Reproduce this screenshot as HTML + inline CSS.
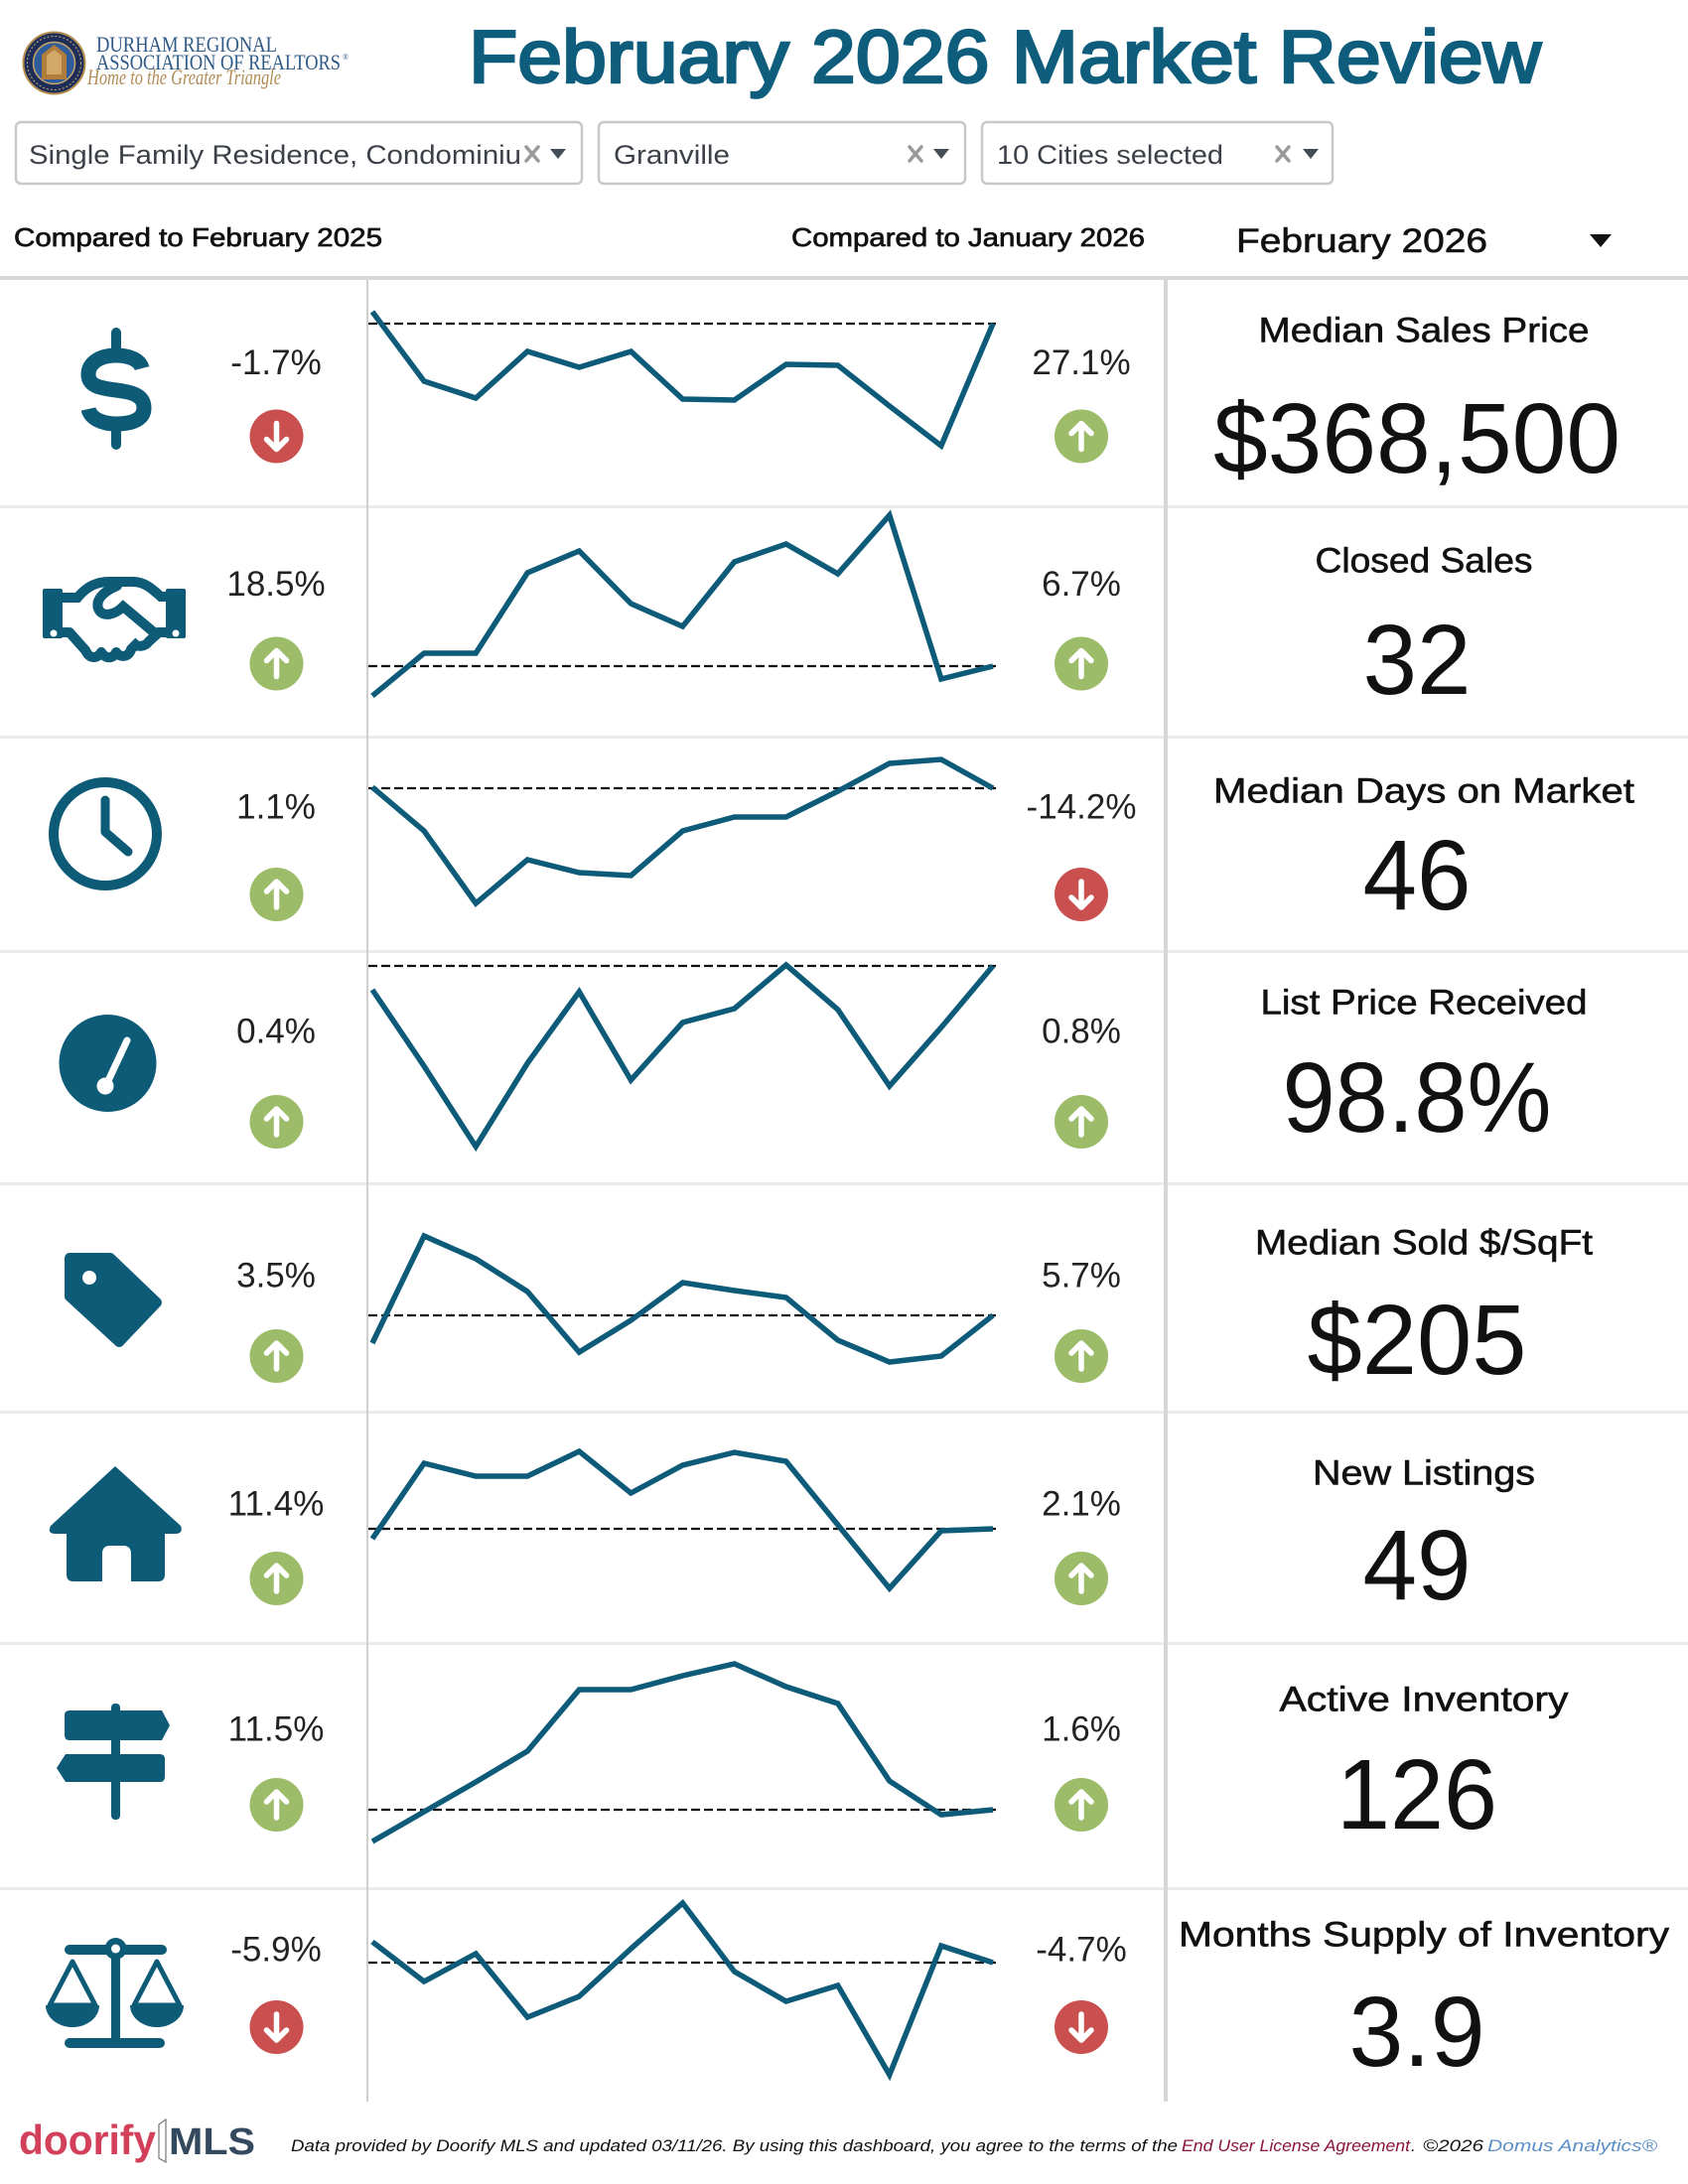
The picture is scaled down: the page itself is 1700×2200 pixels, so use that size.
<!DOCTYPE html>
<html>
<head>
<meta charset="utf-8">
<style>
html,body{margin:0;padding:0;background:#fff;}
svg{display:block;}
</style>
</head>
<body>
<svg width="1700" height="2200" viewBox="0 0 1700 2200" xmlns="http://www.w3.org/2000/svg" font-family="'Liberation Sans', sans-serif">
<rect width="1700" height="2200" fill="#fff"/>

<!-- ===== LOGO ===== -->
<g>
  <circle cx="54.5" cy="63.5" r="31" fill="#1f2e58" stroke="#b58e4c" stroke-width="2"/>
  <circle cx="54.5" cy="63.5" r="27" fill="none" stroke="#c9ab73" stroke-width="1" stroke-dasharray="2 2"/>
  <circle cx="54.5" cy="63.5" r="21" fill="#2f5d9c" stroke="#c9a66a" stroke-width="1.5"/>
  <polygon points="54.5,45 67,55 67,80 42,80 42,55" fill="#b07d3c"/>
  <polygon points="54.5,50 62,56 62,75 47,75 47,56" fill="#d4a866"/>
</g>
<text x="97" y="52" font-family="'Liberation Serif', serif" font-size="22" fill="#2f5a87" textLength="182" lengthAdjust="spacingAndGlyphs">DURHAM REGIONAL</text>
<text x="97" y="70" font-family="'Liberation Serif', serif" font-size="22" fill="#2f5a87" textLength="246" lengthAdjust="spacingAndGlyphs">ASSOCIATION OF REALTORS</text>
<text x="345" y="60" font-family="'Liberation Serif', serif" font-size="8" fill="#2f5a87">®</text>
<text x="88" y="85" font-family="'Liberation Serif', serif" font-style="italic" font-size="22" fill="#b08c55" textLength="195" lengthAdjust="spacingAndGlyphs">Home to the Greater Triangle</text>

<!-- ===== TITLE ===== -->
<text x="472" y="83" font-size="75" fill="#0e5d7c" stroke="#0e5d7c" stroke-width="2.6" textLength="1080" lengthAdjust="spacingAndGlyphs">February 2026 Market Review</text>

<!-- ===== DROPDOWNS ===== -->
<rect x="16" y="123" width="570" height="62" rx="5" fill="#fff" stroke="#c8c8c8" stroke-width="2.5"/>
<text x="29" y="165" font-size="27" fill="#3c4048" textLength="496" lengthAdjust="spacingAndGlyphs">Single Family Residence, Condominiu</text>
<path d="M530,148 L542,162 M542,148 L530,162" stroke="#9a9a9a" stroke-width="3.5" stroke-linecap="round"/>
<polygon points="554,150 570,150 562,160" fill="#444c56"/>

<rect x="603" y="123" width="369" height="62" rx="5" fill="#fff" stroke="#c8c8c8" stroke-width="2.5"/>
<text x="618" y="165" font-size="27" fill="#3c4048" textLength="117" lengthAdjust="spacingAndGlyphs">Granville</text>
<path d="M916,148 L928,162 M928,148 L916,162" stroke="#9a9a9a" stroke-width="3.5" stroke-linecap="round"/>
<polygon points="940,150 956,150 948,160" fill="#444c56"/>

<rect x="989" y="123" width="353" height="62" rx="5" fill="#fff" stroke="#c8c8c8" stroke-width="2.5"/>
<text x="1004" y="165" font-size="27" fill="#3c4048" textLength="228" lengthAdjust="spacingAndGlyphs">10 Cities selected</text>
<path d="M1286,148 L1298,162 M1298,148 L1286,162" stroke="#9a9a9a" stroke-width="3.5" stroke-linecap="round"/>
<polygon points="1312,150 1328,150 1320,160" fill="#444c56"/>

<!-- ===== HEADER LABELS ===== -->
<text x="14" y="248" font-size="26" fill="#111" stroke="#111" stroke-width="0.7" textLength="371" lengthAdjust="spacingAndGlyphs">Compared to February 2025</text>
<text x="797" y="248" font-size="26" fill="#111" stroke="#111" stroke-width="0.7" textLength="356" lengthAdjust="spacingAndGlyphs">Compared to January 2026</text>
<text x="1245" y="254" font-size="34" fill="#111" stroke="#111" stroke-width="0.6" textLength="253" lengthAdjust="spacingAndGlyphs">February 2026</text>
<polygon points="1601,236 1623,236 1612,249" fill="#111"/>

<!-- ===== GRID LINES ===== -->
<rect x="0" y="278" width="1700" height="4" fill="#d8d8d8"/>
<g fill="#ebebeb">
  <rect x="0" y="509" width="1700" height="3"/>
  <rect x="0" y="741" width="1700" height="3"/>
  <rect x="0" y="957" width="1700" height="3"/>
  <rect x="0" y="1191" width="1700" height="3"/>
  <rect x="0" y="1421" width="1700" height="3"/>
  <rect x="0" y="1654" width="1700" height="3"/>
  <rect x="0" y="1901" width="1700" height="3"/>
</g>
<rect x="369" y="282" width="2" height="1835" fill="#cfcfcf"/>
<rect x="1172" y="282" width="4" height="1835" fill="#d6d6d6"/>

<!-- ===== ICONS ===== -->
<g fill="none" stroke="#0e5b78">
  <!-- dollar -->
  <path d="M117,335 V356 M117,429 V448" stroke-width="10" stroke-linecap="round"/>
  <path d="M143,371 C141,363 131,358 117,358 C100,358 89,366 89,377 C89,389 101,391 117,393 C133,395 145,398 145,411 C145,422 134,427 117,427 C102,427 91,421 89,412" stroke-width="15"/>
  <!-- handshake -->
  <path d="M62,602 H78 C88,590 98,586 110,586 H134 C146,586 154,594 162,601 H168" stroke-width="10"/>
  <path d="M118,590 C104,596 96,604 99,613 C103,623 116,619 124,611 L155,637" stroke-width="10" stroke-linecap="round"/>
  <path d="M168,637 H160 L150,646 C146,652 138,652 134,648" stroke-width="10"/>
  <path d="M62,637 H70 L86,655 C90,664 98,664 102,657 C106,664 114,664 117,657 C121,663 130,662 132,654 L140,646" stroke-width="10" stroke-linejoin="round"/>
  <!-- clock -->
  <circle cx="106" cy="840" r="52" stroke-width="10"/>
  <path d="M106,806 V838 L129,858" stroke-width="9" stroke-linecap="round" stroke-linejoin="round"/>
</g>
<g fill="#0e5b78">
  <rect x="43" y="593" width="20" height="50" rx="2"/>
  <rect x="167" y="593" width="20" height="50" rx="2"/>
</g>
<circle cx="54" cy="638" r="3.5" fill="#fff"/>
<circle cx="177" cy="638" r="3.5" fill="#fff"/>

<!-- gauge -->
<circle cx="108.5" cy="1071" r="49" fill="#0e5b78"/>
<path d="M107,1093 L128,1048" stroke="#fff" stroke-width="7" stroke-linecap="round"/>
<circle cx="106" cy="1094" r="8.5" fill="#fff"/>

<!-- tag -->
<polygon points="70,1267 111,1267 158,1312 120,1352 70,1306" fill="#0e5b78" stroke="#0e5b78" stroke-width="10" stroke-linejoin="round"/>
<circle cx="90" cy="1287" r="7" fill="#fff"/>

<!-- house -->
<path d="M116,1477 L182,1537 Q185,1545 176,1545 L166,1545 L166,1586 Q166,1593 159,1593 L132,1593 L132,1565 Q132,1557 124,1557 L111,1557 Q103,1557 103,1565 L103,1593 L74,1593 Q67,1593 67,1586 L67,1545 L56,1545 Q47,1545 51,1537 Z" fill="#0e5b78"/>

<!-- signpost -->
<g fill="#0e5b78">
  <rect x="112" y="1716" width="9" height="117" rx="4"/>
  <path d="M70,1723 H163 L171,1738 L163,1753 H70 Q65,1753 65,1748 V1728 Q65,1723 70,1723 Z"/>
  <path d="M66,1767 H161 Q166,1767 166,1772 V1790 Q166,1795 161,1795 H66 L57,1781 Z"/>
</g>

<!-- scales -->
<g fill="#0e5b78" stroke="none">
  <rect x="65" y="1959" width="103" height="10" rx="5"/>
  <rect x="112" y="1960" width="9" height="95" />
  <rect x="65" y="2053" width="101" height="10" rx="5"/>
  <circle cx="116.5" cy="1963" r="11"/>
  <path d="M46,2020 H100 A27,22 0 0 1 46,2020 Z"/>
  <path d="M131,2020 H185 A27,22 0 0 1 131,2020 Z"/>
</g>
<circle cx="116.5" cy="1963" r="4.5" fill="#fff"/>
<g fill="none" stroke="#0e5b78" stroke-width="5" stroke-linejoin="round">
  <polygon points="73,1976 50,2020 96,2020"/>
  <polygon points="158,1976 135,2020 181,2020"/>
</g>

<!-- ===== PERCENT TEXTS ===== -->
<g font-size="35" fill="#222" text-anchor="middle">
  <text x="278" y="377">-1.7%</text>
  <text x="1089" y="377">27.1%</text>
  <text x="278" y="600">18.5%</text>
  <text x="1089" y="600">6.7%</text>
  <text x="278" y="824.5">1.1%</text>
  <text x="1089" y="824.5">-14.2%</text>
  <text x="278" y="1050.5">0.4%</text>
  <text x="1089" y="1050.5">0.8%</text>
  <text x="278" y="1296.5">3.5%</text>
  <text x="1089" y="1296.5">5.7%</text>
  <text x="278" y="1526.5">11.4%</text>
  <text x="1089" y="1526.5">2.1%</text>
  <text x="278" y="1753.5">11.5%</text>
  <text x="1089" y="1753.5">1.6%</text>
  <text x="278" y="1975.5">-5.9%</text>
  <text x="1089" y="1975.5">-4.7%</text>
</g>

<!-- ===== ARROW BADGES ===== -->
<g stroke="#fff" stroke-width="5.5" stroke-linecap="round" stroke-linejoin="round">
  <g transform="translate(278.5,439.5)"><circle r="27" fill="#c9504f" stroke="none"/><path d="M0,-13 V12 M-10,3 L0,13 L10,3" fill="none"/></g>
  <g transform="translate(1089,439.5)"><circle r="27" fill="#9cbc69" stroke="none"/><path d="M0,13 V-12 M-10,-3 L0,-13 L10,-3" fill="none"/></g>
  <g transform="translate(278.5,668.5)"><circle r="27" fill="#9cbc69" stroke="none"/><path d="M0,13 V-12 M-10,-3 L0,-13 L10,-3" fill="none"/></g>
  <g transform="translate(1089,668.5)"><circle r="27" fill="#9cbc69" stroke="none"/><path d="M0,13 V-12 M-10,-3 L0,-13 L10,-3" fill="none"/></g>
  <g transform="translate(278.5,901)"><circle r="27" fill="#9cbc69" stroke="none"/><path d="M0,13 V-12 M-10,-3 L0,-13 L10,-3" fill="none"/></g>
  <g transform="translate(1089,901)"><circle r="27" fill="#c9504f" stroke="none"/><path d="M0,-13 V12 M-10,3 L0,13 L10,3" fill="none"/></g>
  <g transform="translate(278.5,1130)"><circle r="27" fill="#9cbc69" stroke="none"/><path d="M0,13 V-12 M-10,-3 L0,-13 L10,-3" fill="none"/></g>
  <g transform="translate(1089,1130)"><circle r="27" fill="#9cbc69" stroke="none"/><path d="M0,13 V-12 M-10,-3 L0,-13 L10,-3" fill="none"/></g>
  <g transform="translate(278.5,1366)"><circle r="27" fill="#9cbc69" stroke="none"/><path d="M0,13 V-12 M-10,-3 L0,-13 L10,-3" fill="none"/></g>
  <g transform="translate(1089,1366)"><circle r="27" fill="#9cbc69" stroke="none"/><path d="M0,13 V-12 M-10,-3 L0,-13 L10,-3" fill="none"/></g>
  <g transform="translate(278.5,1590)"><circle r="27" fill="#9cbc69" stroke="none"/><path d="M0,13 V-12 M-10,-3 L0,-13 L10,-3" fill="none"/></g>
  <g transform="translate(1089,1590)"><circle r="27" fill="#9cbc69" stroke="none"/><path d="M0,13 V-12 M-10,-3 L0,-13 L10,-3" fill="none"/></g>
  <g transform="translate(278.5,1818)"><circle r="27" fill="#9cbc69" stroke="none"/><path d="M0,13 V-12 M-10,-3 L0,-13 L10,-3" fill="none"/></g>
  <g transform="translate(1089,1818)"><circle r="27" fill="#9cbc69" stroke="none"/><path d="M0,13 V-12 M-10,-3 L0,-13 L10,-3" fill="none"/></g>
  <g transform="translate(278.5,2042)"><circle r="27" fill="#c9504f" stroke="none"/><path d="M0,-13 V12 M-10,3 L0,13 L10,3" fill="none"/></g>
  <g transform="translate(1089,2042)"><circle r="27" fill="#c9504f" stroke="none"/><path d="M0,-13 V12 M-10,3 L0,13 L10,3" fill="none"/></g>
</g>

<!-- ===== SPARKLINES ===== -->
<g stroke="#111" stroke-width="2.2" stroke-dasharray="9 4">
  <line x1="371" y1="326" x2="1003" y2="326"/>
  <line x1="371" y1="671" x2="1003" y2="671"/>
  <line x1="371" y1="794" x2="1003" y2="794"/>
  <line x1="371" y1="973" x2="1003" y2="973"/>
  <line x1="371" y1="1325" x2="1003" y2="1325"/>
  <line x1="371" y1="1540" x2="1003" y2="1540"/>
  <line x1="371" y1="1823" x2="1003" y2="1823"/>
  <line x1="371" y1="1977" x2="1003" y2="1977"/>
</g>
<g fill="none" stroke="#0d5b78" stroke-width="5.5" stroke-linejoin="miter" stroke-miterlimit="3">
  <polyline points="375,314 427.1,384 479.2,401 531.2,354 583.3,370 635.4,354 687.5,402 739.6,403 791.7,367 843.8,368 895.8,409 947.9,449 1000,326"/>
  <polyline points="375,701 427.1,658 479.2,658 531.2,577 583.3,555 635.4,608 687.5,631 739.6,566 791.7,548 843.8,578 895.8,519 947.9,684 1000,671"/>
  <polyline points="375,793 427.1,837 479.2,910 531.2,866 583.3,879 635.4,882 687.5,837 739.6,823 791.7,823 843.8,797 895.8,769 947.9,765 1000,794"/>
  <polyline points="375,997 427.1,1074 479.2,1155 531.2,1071 583.3,999 635.4,1088 687.5,1030 739.6,1016 791.7,972 843.8,1017 895.8,1094 947.9,1035 1000,973"/>
  <polyline points="375,1353 427.1,1245 479.2,1268 531.2,1301 583.3,1362 635.4,1330 687.5,1292 739.6,1300 791.7,1307 843.8,1350 895.8,1372 947.9,1366 1000,1325"/>
  <polyline points="375,1550 427.1,1474 479.2,1487 531.2,1487 583.3,1462 635.4,1504 687.5,1476 739.6,1463 791.7,1472 843.8,1536 895.8,1600 947.9,1542 1000,1540"/>
  <polyline points="375,1855 427.1,1825 479.2,1795 531.2,1764 583.3,1702 635.4,1702 687.5,1688 739.6,1676 791.7,1699 843.8,1716 895.8,1794 947.9,1828 1000,1823"/>
  <polyline points="375,1956 427.1,1996 479.2,1968 531.2,2032 583.3,2011 635.4,1963 687.5,1917 739.6,1986 791.7,2016 843.8,2000 895.8,2090 947.9,1960 1000,1977"/>
</g>

<!-- ===== RIGHT COLUMN HEADINGS ===== -->
<g font-size="35" fill="#111" stroke="#111" stroke-width="0.6" text-anchor="middle">
  <text x="1434" y="344.5" textLength="333" lengthAdjust="spacingAndGlyphs">Median Sales Price</text>
  <text x="1434" y="576.5" textLength="219" lengthAdjust="spacingAndGlyphs">Closed Sales</text>
  <text x="1434" y="808.5" textLength="424" lengthAdjust="spacingAndGlyphs">Median Days on Market</text>
  <text x="1434" y="1021.5" textLength="329" lengthAdjust="spacingAndGlyphs">List Price Received</text>
  <text x="1434" y="1263.5" textLength="340" lengthAdjust="spacingAndGlyphs">Median Sold $/SqFt</text>
  <text x="1434" y="1495.5" textLength="224" lengthAdjust="spacingAndGlyphs">New Listings</text>
  <text x="1434" y="1723.5" textLength="291" lengthAdjust="spacingAndGlyphs">Active Inventory</text>
  <text x="1434" y="1960.5" textLength="494" lengthAdjust="spacingAndGlyphs">Months Supply of Inventory</text>
</g>

<!-- ===== RIGHT COLUMN VALUES ===== -->
<g font-size="100" fill="#111" text-anchor="middle">
  <text x="1427" y="476" textLength="410" lengthAdjust="spacingAndGlyphs">$368,500</text>
  <text x="1427" y="699" textLength="109" lengthAdjust="spacingAndGlyphs">32</text>
  <text x="1427" y="916" textLength="109" lengthAdjust="spacingAndGlyphs">46</text>
  <text x="1427" y="1140" textLength="271" lengthAdjust="spacingAndGlyphs">98.8%</text>
  <text x="1427" y="1384" textLength="221" lengthAdjust="spacingAndGlyphs">$205</text>
  <text x="1427" y="1611" textLength="109" lengthAdjust="spacingAndGlyphs">49</text>
  <text x="1427" y="1842" textLength="162" lengthAdjust="spacingAndGlyphs">126</text>
  <text x="1427" y="2081" textLength="137" lengthAdjust="spacingAndGlyphs">3.9</text>
</g>

<!-- ===== FOOTER ===== -->
<text x="19" y="2170" font-size="42" font-weight="bold" fill="#d3405a" textLength="138" lengthAdjust="spacingAndGlyphs">doorify</text>
<path d="M160,2140 L167,2135 L167,2178 L160,2174 Z" fill="none" stroke="#777" stroke-width="1.2"/>
<text x="170" y="2170" font-size="38" font-weight="bold" fill="#34495e" textLength="87" lengthAdjust="spacingAndGlyphs">MLS</text>
<g font-size="17" font-style="italic">
  <text x="293" y="2167" fill="#111" textLength="893" lengthAdjust="spacingAndGlyphs">Data provided by Doorify MLS and updated 03/11/26.  By using this dashboard, you agree to the terms of the</text>
  <text x="1190" y="2167" fill="#8a1538" textLength="230" lengthAdjust="spacingAndGlyphs">End User License Agreement</text>
  <text x="1421" y="2167" fill="#111">.</text>
  <text x="1433" y="2167" fill="#111" textLength="61" lengthAdjust="spacingAndGlyphs">©2026</text>
  <text x="1498" y="2167" fill="#5a8fc8" textLength="171" lengthAdjust="spacingAndGlyphs">Domus Analytics®</text>
</g>
</svg>
</body>
</html>
